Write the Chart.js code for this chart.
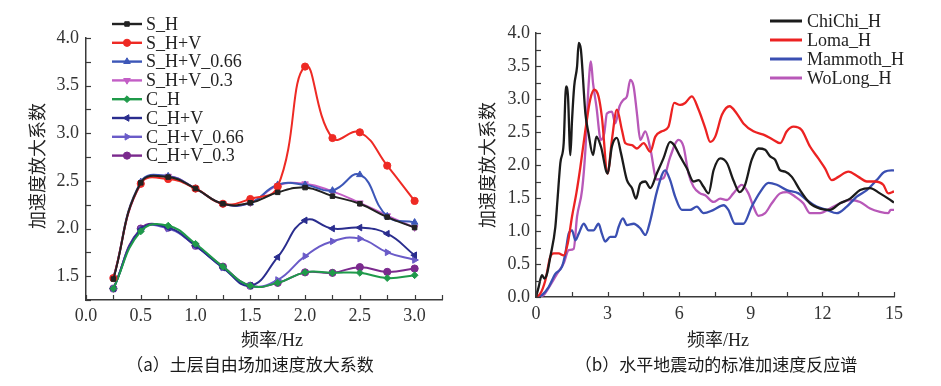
<!DOCTYPE html>
<html>
<head>
<meta charset="utf-8">
<script src="https://cdn.jsdelivr.net/npm/chart.js@4/dist/chart.umd.min.js"></script>
<style>
  html, body { margin: 0; padding: 0; background: #fff; }
  #wrap { position: relative; width: 941px; height: 386px; overflow: hidden; background: #fff; }
  canvas { position: absolute; top: 0; }
  .t { position: absolute; white-space: nowrap; color: #222; }
  .ser { font-family: "Liberation Serif", "Times New Roman", "DejaVu Serif", "Noto Sans CJK SC", serif; font-size: 18px; }
  .cap { font-family: "Noto Sans CJK SC", sans-serif; font-size: 17px; color: #1a1a1a; }
  .ytitle { transform: translate(-50%, -50%) rotate(-90deg); }
  .ctr { transform: translate(-50%, -50%); }
</style>
</head>
<body>
<div id="wrap">
  <canvas id="c1" width="470" height="386" style="left:0px"></canvas>
  <canvas id="c2" width="471" height="386" style="left:470px"></canvas>
  <div class="t ser ytitle" style="left:36px; top:166px;">加速度放大系数</div>
  <div class="t ser ytitle" style="left:486px; top:165px;">加速度放大系数</div>
  <div class="t ser ctr" style="left:272px; top:338px;">频率/Hz</div>
  <div class="t ser ctr" style="left:718px; top:338px;">频率/Hz</div>
  <div class="t cap ctr" style="left:250px; top:363px;">（a）土层自由场加速度放大系数</div>
  <div class="t cap ctr" style="left:716px; top:363px;">（b）水平地震动的标准加速度反应谱</div>
</div>
<script>
// ---------- (a) data ----------
const freqA = [0.25, 0.5, 0.75, 1.0, 1.25, 1.5, 1.75, 2.0, 2.25, 2.5, 2.75, 3.0];
const sH      = [1.47, 2.48, 2.54, 2.42, 2.26, 2.27, 2.38, 2.43, 2.34, 2.26, 2.12, 2.01];
const sHV     = [1.48, 2.47, 2.52, 2.42, 2.26, 2.31, 2.44, 3.70, 2.95, 3.01, 2.66, 2.29];
const sHV066  = [1.48, 2.49, 2.55, 2.42, 2.26, 2.27, 2.46, 2.46, 2.40, 2.565, 2.13, 2.065];
const sHV03   = [1.48, 2.47, 2.55, 2.42, 2.26, 2.27, 2.45, 2.47, 2.39, 2.27, 2.135, 2.01];
const cH      = [1.37, 1.97, 2.03, 1.84, 1.60, 1.40, 1.43, 1.54, 1.535, 1.535, 1.48, 1.51];
const cHV     = [1.37, 1.99, 2.01, 1.82, 1.59, 1.40, 1.70, 2.086, 2.00, 2.01, 1.946, 1.72];
const cHV066  = [1.37, 1.99, 2.00, 1.82, 1.59, 1.40, 1.46, 1.71, 1.866, 1.894, 1.75, 1.67];
const cHV03   = [1.37, 2.00, 2.01, 1.82, 1.60, 1.40, 1.43, 1.54, 1.535, 1.595, 1.545, 1.58];
const namesA  = ['S_H', 'S_H+V', 'S_H+V_0.66', 'S_H+V_0.3', 'C_H', 'C_H+V', 'C_H+V_0.66', 'C_H+V_0.3'];
const xTicksA = [0.0, 0.5, 1.0, 1.5, 2.0, 2.5, 3.0];
const yTicksA = [1.5, 2.0, 2.5, 3.0, 3.5, 4.0];

// ---------- (b) data ----------
const chichiF = [0,0.11,0.25,0.35,0.46,0.6,0.81,0.9,1.02,1.16,1.26,1.34,1.44,1.51,1.6,1.72,1.79,1.88,2.07,2.2,2.39,2.53,2.72,3.0,3.18,3.39,3.56,3.81,4.02,4.19,4.37,4.58,4.79,5.06,5.34,5.62,5.79,6.04,6.32,6.6,6.81,7.02,7.23,7.44,7.72,8.0,8.27,8.53,8.76,9.04,9.32,9.6,9.81,10.02,10.23,10.44,10.72,11.06,11.48,11.9,12.32,12.74,13.16,13.58,14.0,14.41,14.76,15.0];
const chichiA = [0,0.15,0.33,0.28,0.35,0.61,1.06,1.47,2.03,2.33,3.19,3.04,2.15,2.68,3.19,3.49,3.85,3.75,2.78,2.48,2.15,2.43,2.28,1.87,2.28,2.41,2.18,1.77,1.65,1.49,1.72,1.75,1.65,1.87,2.10,2.35,2.30,2.13,1.95,1.75,1.77,1.67,1.57,1.92,2.10,2.03,1.77,1.59,1.70,2.08,2.25,2.23,2.13,2.08,1.92,1.90,1.82,1.62,1.42,1.34,1.32,1.42,1.49,1.62,1.65,1.57,1.49,1.43];
const lomaF = [0,0.18,0.39,0.6,0.74,0.95,1.16,1.33,1.51,1.69,1.86,2.07,2.27,2.44,2.62,2.76,3.0,3.18,3.39,3.6,3.74,4.02,4.23,4.51,4.79,5.0,5.27,5.55,5.79,6.04,6.25,6.53,6.81,7.09,7.3,7.51,7.79,8.11,8.41,8.69,9.11,9.53,9.95,10.23,10.51,10.79,11.13,11.48,11.83,12.11,12.39,12.67,13.09,13.51,13.86,14.2,14.55,14.76,15.0];
const lomaA = [0,0.05,0.25,0.61,0.66,0.66,0.63,0.81,1.22,1.57,1.97,2.53,2.99,3.14,3.04,2.73,1.87,2.38,2.84,2.53,2.33,2.30,2.25,2.33,2.20,2.43,2.51,2.58,2.94,2.91,2.94,3.04,2.84,2.56,2.35,2.43,2.76,2.89,2.78,2.63,2.51,2.46,2.38,2.33,2.51,2.58,2.53,2.28,2.10,1.95,1.77,1.82,1.90,1.82,1.75,1.75,1.70,1.57,1.60];
const mamF = [0,0.25,0.53,0.81,1.09,1.23,1.37,1.51,1.65,1.79,2.0,2.2,2.41,2.62,2.76,2.9,3.11,3.32,3.46,3.64,3.81,4.09,4.37,4.58,4.79,5.06,5.41,5.62,5.83,6.11,6.46,6.74,7.02,7.44,7.86,8.06,8.34,8.69,9.04,9.39,9.74,10.09,10.51,11.0,11.34,11.76,12.18,12.6,13.02,13.44,13.86,14.27,14.62,15.0];
const mamA = [0,0.03,0.15,0.35,0.46,0.66,0.96,1.01,0.86,0.96,1.11,1.01,1.01,1.11,0.96,0.84,0.91,0.91,1.06,1.19,1.09,1.11,1.04,0.94,1.16,1.59,1.92,1.77,1.52,1.32,1.32,1.37,1.27,1.32,1.39,1.32,1.11,1.11,1.37,1.59,1.73,1.70,1.62,1.57,1.47,1.37,1.32,1.27,1.37,1.52,1.62,1.77,1.90,1.92];
const woF = [0,0.32,0.6,0.88,1.16,1.37,1.58,1.72,1.93,2.07,2.2,2.3,2.39,2.53,2.72,2.86,2.97,3.18,3.32,3.5,3.67,3.81,3.95,4.09,4.23,4.37,4.58,4.79,5.06,5.34,5.62,5.97,6.18,6.39,6.6,6.88,7.09,7.44,7.72,8.0,8.27,8.62,8.9,9.11,9.32,9.6,9.88,10.23,10.51,10.86,11.2,11.48,11.9,12.32,12.74,13.16,13.58,14.0,14.41,14.76,14.86,15.0];
const woA = [0,0.03,0.18,0.35,0.51,0.71,0.73,1.22,1.62,2.23,3.19,3.57,3.24,2.89,2.38,2.48,2.78,2.81,2.63,2.89,2.99,3.04,3.29,3.19,2.78,2.38,2.51,2.25,1.78,1.80,2.12,2.38,2.28,1.87,1.67,1.57,1.54,1.44,1.49,1.47,1.57,1.70,1.57,1.37,1.23,1.27,1.42,1.57,1.59,1.52,1.42,1.27,1.27,1.34,1.42,1.47,1.44,1.34,1.29,1.27,1.32,1.32];
const namesB  = ['ChiChi_H', 'Loma_H', 'Mammoth_H', 'WoLong_H'];
const xTicksB = [0, 3, 6, 9, 12, 15];
const yTicksB = [0.0, 0.5, 1.0, 1.5, 2.0, 2.5, 3.0, 3.5, 4.0];

// ---------- helpers ----------
const pts = (xs, ys) => xs.map((x, i) => ({ x: x, y: ys[i] }));
const SERIF = "'Liberation Serif', 'Times New Roman', 'DejaVu Serif', serif";
const TICK_FONT = { family: SERIF, size: 18 };
const AXIS_COLOR = '#3a3a3a';

const inTicks = {
  id: 'inTicks',
  afterDatasetsDraw(chart, args, opts) {
    const { ctx, chartArea } = chart;
    const x = chart.scales.x, y = chart.scales.y;
    ctx.save();
    ctx.strokeStyle = AXIS_COLOR;
    ctx.lineWidth = 1.2;
    for (let v = x.min; v <= x.max + 1e-9; v += opts.xStep) {
      const px = Math.round(x.getPixelForValue(v)) + 0.5;
      ctx.beginPath(); ctx.moveTo(px, chartArea.bottom); ctx.lineTo(px, chartArea.bottom - opts.len); ctx.stroke();
    }
    for (let v = y.min; v <= y.max + 1e-9; v += opts.yStep) {
      const py = Math.round(y.getPixelForValue(v)) + 0.5;
      ctx.beginPath(); ctx.moveTo(chartArea.left, py); ctx.lineTo(chartArea.left + opts.len, py); ctx.stroke();
    }
    ctx.restore();
  }
};

const customLegend = {
  id: 'customLegend',
  afterDraw(chart, args, opts) {
    const ctx = chart.ctx;
    ctx.save();
    chart.data.datasets.forEach((ds, i) => {
      const yy = opts.y0 + i * opts.dy;
      ctx.strokeStyle = ds.borderColor;
      ctx.lineWidth = opts.lw;
      ctx.beginPath(); ctx.moveTo(opts.x0, yy); ctx.lineTo(opts.x1, yy); ctx.stroke();
      if (opts.markers && Chart.helpers && Chart.helpers.drawPoint) {
        ctx.fillStyle = ds.backgroundColor;
        ctx.strokeStyle = ds.borderColor;
        ctx.lineWidth = 1;
        Chart.helpers.drawPoint(ctx, { pointStyle: ds.pointStyle, rotation: ds.pointRotation || 0, radius: ds.pointRadius, borderWidth: 1 }, (opts.x0 + opts.x1) / 2, yy);
      }
      ctx.fillStyle = '#222';
      ctx.font = opts.font;
      ctx.textBaseline = 'middle';
      ctx.textAlign = 'left';
      ctx.fillText(ds.label, opts.tx, yy + 1);
    });
    ctx.restore();
  }
};

function fmt1(v) { return Number(v).toFixed(1); }

// ---------- chart (a) ----------
const colorsA = ['#222222', '#ee2a24', '#3d57b8', '#c35ec6', '#1f9a4a', '#2a2d8e', '#6a5bc8', '#7b2a8e'];
const stylesA = ['rect', 'circle', 'triangle', 'triangle', 'rectRot', 'triangle', 'triangle', 'circle'];
const rotA    = [0, 0, 0, 180, 0, -90, 90, 0];
const radA    = [3.2, 3.6, 3.8, 3.8, 3.4, 3.8, 3.8, 3.6];
const seriesA = [sH, sHV, sHV066, sHV03, cH, cHV, cHV066, cHV03];

new Chart(document.getElementById('c1'), {
  type: 'line',
  data: {
    datasets: seriesA.map((arr, i) => ({
      label: namesA[i],
      data: pts(freqA, arr),
      borderColor: colorsA[i],
      backgroundColor: colorsA[i],
      borderWidth: 2,
      pointStyle: stylesA[i],
      pointRotation: rotA[i],
      pointRadius: radA[i],
      pointBorderWidth: 1,
      tension: 0.45,
      fill: false
    }))
  },
  options: {
    responsive: false,
    animation: false,
    events: [],
    layout: { padding: { left: 0, top: 38, right: 28, bottom: 0 } },
    plugins: {
      legend: { display: false },
      tooltip: { enabled: false },
      inTicks: { xStep: 0.25, yStep: 0.25, len: 5 },
      customLegend: { x0: 112, x1: 142, tx: 146, y0: 24, dy: 18.8, lw: 2.4, markers: true, font: "18px " + SERIF }
    },
    scales: {
      x: {
        type: 'linear', min: 0, max: 3.25,
        grid: { display: false, drawTicks: false },
        border: { display: true, color: AXIS_COLOR, width: 1.5 },
        afterBuildTicks: s => { s.ticks = xTicksA.map(v => ({ value: v })); },
        afterFit: s => { s.height = 86; },
        ticks: { font: TICK_FONT, color: '#333', padding: 5, maxRotation: 0, autoSkip: false, callback: v => fmt1(v) }
      },
      y: {
        type: 'linear', min: 1.25, max: 4.0,
        grid: { display: false, drawTicks: false },
        border: { display: true, color: AXIS_COLOR, width: 1.5 },
        afterBuildTicks: s => { s.ticks = yTicksA.map(v => ({ value: v })); },
        afterFit: s => { s.width = 86; },
        ticks: { font: TICK_FONT, color: '#333', padding: 7, autoSkip: false, callback: v => fmt1(v) }
      }
    }
  },
  plugins: [inTicks, customLegend]
});

// ---------- chart (b) ----------
const colorsB = ['#1b1b1b', '#ec2222', '#3a4fb2', '#b858b8'];
const seriesB = [[chichiF, chichiA], [lomaF, lomaA], [mamF, mamA], [woF, woA]];

new Chart(document.getElementById('c2'), {
  type: 'line',
  data: {
    datasets: seriesB.map((s, i) => ({
      label: namesB[i],
      data: pts(s[0], s[1]),
      borderColor: colorsB[i],
      backgroundColor: colorsB[i],
      borderWidth: 2.3,
      pointRadius: 0,
      cubicInterpolationMode: 'monotone',
      fill: false
    }))
  },
  options: {
    responsive: false,
    animation: false,
    events: [],
    layout: { padding: { left: 0, top: 33, right: 47, bottom: 0 } },
    plugins: {
      legend: { display: false },
      tooltip: { enabled: false },
      inTicks: { xStep: 1.5, yStep: 0.25, len: 5 },
      customLegend: { x0: 300, x1: 332, tx: 337, y0: 21, dy: 19, lw: 3, markers: false, font: "18px " + SERIF }
    },
    scales: {
      x: {
        type: 'linear', min: 0, max: 15,
        grid: { display: false, drawTicks: false },
        border: { display: true, color: AXIS_COLOR, width: 1.5 },
        afterBuildTicks: s => { s.ticks = xTicksB.map(v => ({ value: v })); },
        afterFit: s => { s.height = 89; },
        ticks: { font: TICK_FONT, color: '#333', padding: 6, maxRotation: 0, autoSkip: false, callback: v => String(v) }
      },
      y: {
        type: 'linear', min: 0, max: 4.0,
        grid: { display: false, drawTicks: false },
        border: { display: true, color: AXIS_COLOR, width: 1.5 },
        afterBuildTicks: s => { s.ticks = yTicksB.map(v => ({ value: v })); },
        afterFit: s => { s.width = 66; },
        ticks: { font: TICK_FONT, color: '#333', padding: 6, autoSkip: false, callback: v => fmt1(v) }
      }
    }
  },
  plugins: [inTicks, customLegend]
});
</script>
</body>
</html>
